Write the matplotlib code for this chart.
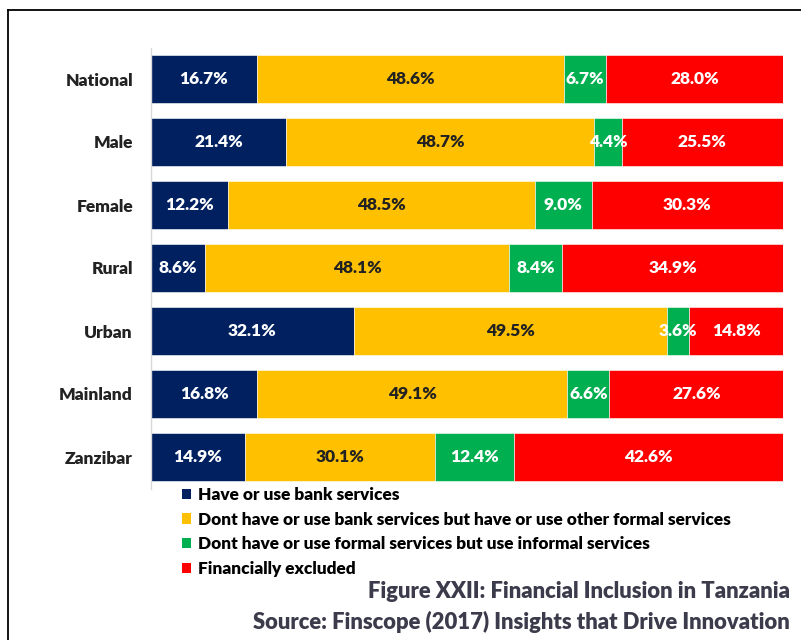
import matplotlib
matplotlib.use("Agg")
import matplotlib.pyplot as plt
from matplotlib.lines import Line2D
from matplotlib.patches import Patch

plt.rcParams['font.family'] = ['Lato', 'DejaVu Sans']

categories = ["National", "Male", "Female", "Rural", "Urban", "Mainland", "Zanzibar"]
bank = [16.7, 21.4, 12.2, 8.6, 32.1, 16.8, 14.9]
other_formal = [48.6, 48.7, 48.5, 48.1, 49.5, 49.1, 30.1]
informal = [6.7, 4.4, 9.0, 8.4, 3.6, 6.6, 12.4]
excluded = [28.0, 25.5, 30.3, 34.9, 14.8, 27.6, 42.6]

series_names = [
    "Have or use bank services",
    "Dont have or use bank services but have or use other formal services",
    "Dont have or use formal services but use informal services",
    "Financially excluded",
]
series = [bank, other_formal, informal, excluded]
colors = ["#002060", "#FFC000", "#00B050", "#FF0000"]
text_colors = ["white", "#222222", "white", "white"]
W = "heavy"

fig = plt.figure(figsize=(8.01, 6.40), dpi=100)
ax = fig.add_axes([151 / 801, 1 - 488.5 / 640, (783 - 151) / 801, 441 / 640])

ypos = list(range(len(categories)))
left = [0.0] * len(categories)
for vals, col, tcol in zip(series, colors, text_colors):
    ax.barh(ypos, vals, left=left, height=0.75, color=col,
            edgecolor="white", linewidth=0.4)
    for y, l, v in zip(ypos, left, vals):
        ax.text(l + v / 2, y, f"{v:.1f}%", ha="center", va="center",
                color=tcol, fontsize=12.5, fontweight=W)
    left = [a + b for a, b in zip(left, vals)]

ax.set_xlim(0, 100)
ax.set_ylim(6.5, -0.5)
ax.set_yticks(ypos)
ax.set_yticklabels(categories, fontsize=12.5, fontweight=W, color="#222222")
ax.tick_params(axis="y", length=0, pad=13)
ax.set_xticks([])
for side in ["top", "right", "bottom"]:
    ax.spines[side].set_visible(False)
ax.spines["left"].set_color("#d9d9d9")
ax.spines["left"].set_linewidth(1.0)

handles = [Patch(facecolor=c, edgecolor="none") for c in colors]
fig.legend(handles, series_names, loc="upper left",
           bbox_to_anchor=(182 / 801, 1 - 487 / 640), frameon=False,
           handlelength=0.55, handleheight=0.55, handletextpad=0.4,
           labelspacing=0.5, borderpad=0, borderaxespad=0,
           prop={"weight": W, "size": 12.4})

fig.text(790 / 801, 1 - 592 / 640, "Figure XXII: Financial Inclusion in Tanzania",
         ha="right", va="center", fontsize=15.8, fontweight=W, color="#3b3b4b")
fig.text(790 / 801, 1 - 622 / 640, "Source: Finscope (2017) Insights that Drive Innovation",
         ha="right", va="center", fontsize=15.8, fontweight=W, color="#3b3b4b")

# frame around the figure area (top and left edges)
fig.add_artist(Line2D([8 / 801, 1.0], [1 - 10 / 640, 1 - 10 / 640],
                      transform=fig.transFigure, color="black", linewidth=1.3))
fig.add_artist(Line2D([8 / 801, 8 / 801], [0.0, 1 - 10 / 640],
                      transform=fig.transFigure, color="black", linewidth=1.3))

fig.savefig("out.png", dpi=100)
